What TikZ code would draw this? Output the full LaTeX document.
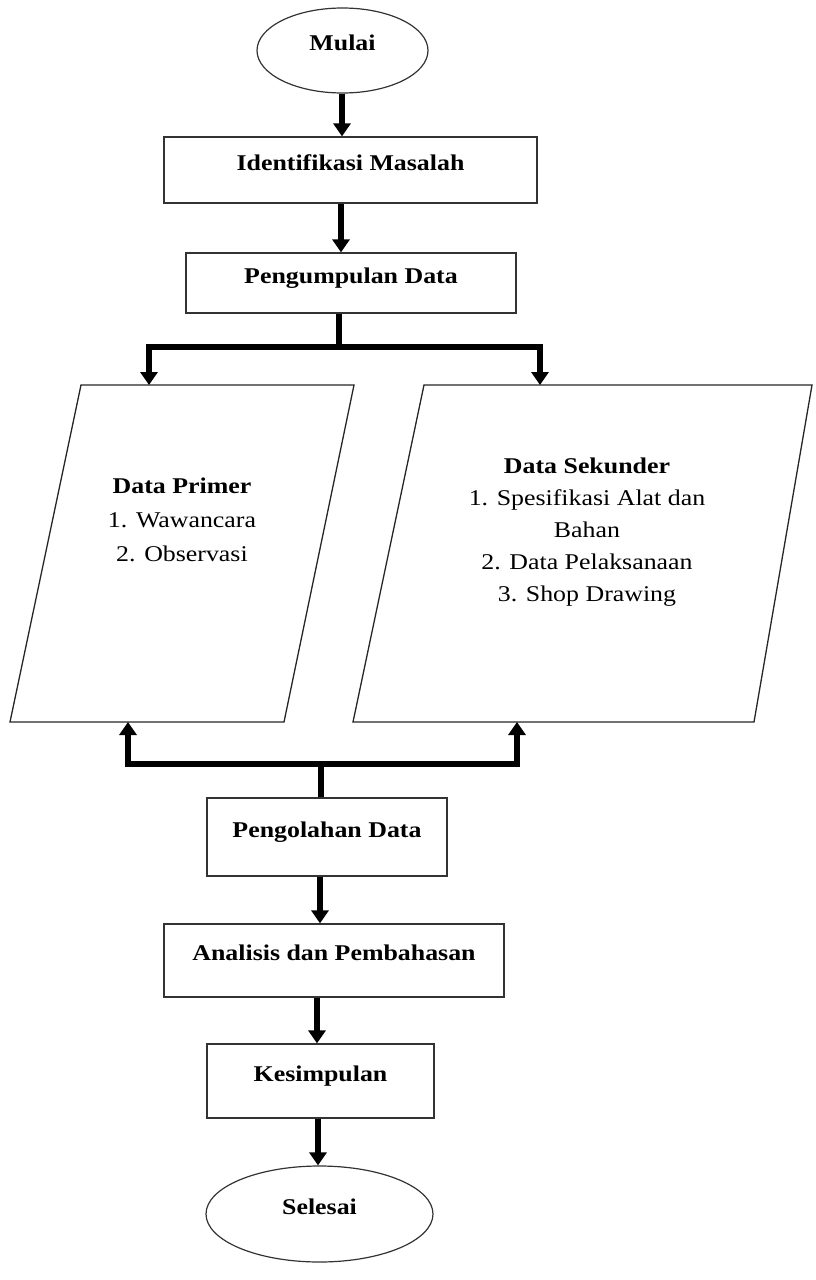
\documentclass[tikz,border=0pt]{standalone}
\usepackage{fontspec}
\setmainfont{Liberation Serif}[FakeStretch=1.15]
\usetikzlibrary{shapes.geometric,arrows.meta}
\begin{document}
\begin{tikzpicture}[x=1pt,y=-1pt,
  txt/.style={font=\fontsize{22.5}{34}\selectfont},
  box/.style={draw=black!80, line width=1.3pt, rectangle, inner sep=0pt,
    font=\fontsize{22.5}{27}\selectfont\bfseries, text height=16pt, text depth=16pt},
  term/.style={draw=black!80, line width=1.2pt, ellipse, inner sep=0pt,
    font=\fontsize{22.5}{27}\selectfont\bfseries, text height=16pt, text depth=16pt},
  para/.style={draw=black!85, line width=1.3pt, line join=miter},
  arr/.style={line width=5.5pt, -{Triangle[length=13pt,width=17pt]}}
]
\useasboundingbox (0,0) rectangle (815,1280);

\node[term, minimum width=171pt, minimum height=85pt] (mulai) at (342.5,50.5) {Mulai};
\node[box, minimum width=373pt, minimum height=66pt] (iden) at (350.5,170) {Identifikasi Masalah};
\node[box, minimum width=330pt, minimum height=60pt] (peng) at (351,283) {Pengumpulan Data};

% parallelograms (data)
\draw[para] (10,722) -- (81,385) -- (354,385) -- (284,722) -- cycle;
\draw[para] (353,722) -- (424,385) -- (812,385) -- (754,722) -- cycle;
\coordinate (primtop) at (149,385);
\coordinate (sektop) at (540,385);
\coordinate (primbot) at (128,722);
\coordinate (sekbot) at (517,722);

\node[txt, align=center, inner sep=0pt, anchor=north] (primt) at (182,478)
  {\textbf{Data Primer}\\1. Wawancara\\2. Observasi};
\node[txt, align=center, inner sep=0pt, anchor=north, font=\fontsize{22.5}{32}\selectfont] (sekt) at (587,458)
  {\textbf{Data Sekunder}\\1. Spesifikasi Alat dan\\Bahan\\2. Data Pelaksanaan\\3. Shop Drawing};

\node[box, minimum width=240pt, minimum height=78pt] (olah) at (327,837) {Pengolahan Data};
\node[box, minimum width=340pt, minimum height=73pt] (anal) at (334,960.5) {Analisis dan Pembahasan};
\node[box, minimum width=227pt, minimum height=74pt] (kes) at (320.5,1081) {Kesimpulan};
\node[term, minimum width=227pt, minimum height=96pt] (sel) at (319.5,1214) {Selesai};

\coordinate (split) at (339,347);
\coordinate (merge) at (321,764);

\draw[arr] (342,0 |- mulai.south) -- (342,0 |- iden.north);
\draw[arr] (341,0 |- iden.south) -- (341,0 |- peng.north);
\draw[arr] (339,0 |- peng.south) -- (split) -| (primtop);
\draw[arr] (339,0 |- peng.south) -- (split) -| (sektop);
\draw[arr] (321,0 |- olah.north) -- (merge) -| (primbot);
\draw[arr] (321,0 |- olah.north) -- (merge) -| (sekbot);
\draw[arr] (320,0 |- olah.south) -- (320,0 |- anal.north);
\draw[arr] (317,0 |- anal.south) -- (317,0 |- kes.north);
\draw[arr] (318,0 |- kes.south) -- (318,0 |- sel.north);
\end{tikzpicture}
\end{document}
